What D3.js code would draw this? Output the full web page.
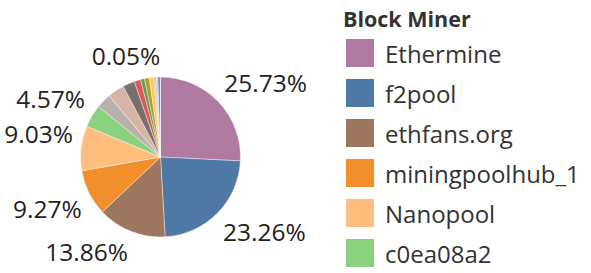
<!DOCTYPE html>
<html>
<head>
<meta charset="utf-8">
<script src="https://cdn.jsdelivr.net/npm/d3@7"></script>
<style>
  body { margin: 0; background: #fff; }
  text { font-family: "Open Sans", sans-serif; }
</style>
</head>
<body>
<div id="chart"></div>
<script>
// Block share by miner (percent), clockwise from 12 o'clock
var miners = ["Ethermine", "f2pool", "ethfans.org", "miningpoolhub_1", "Nanopool", "c0ea08a2",
  "DwarfPool1", "bw.com", "Coinotron", "sparkpool", "uupool", "zhizhu.top", "BitClubPool",
  "2miners", "hiveon", "Minerall", "pandapool", "Other"];
var shares = [25.73, 23.26, 13.86, 9.27, 9.03, 4.57,
  3.0, 3.4, 2.4, 1.30, 0.80, 0.95, 0.95, 0.20, 0.30, 0.30, 0.45, 0.05];
var colors = ["#b07aa1", "#4e79a7", "#9d7660", "#f28e2b", "#ffbe7d", "#8cd17d",
  "#bab0ac", "#d7b5a6", "#79706e", "#e15759", "#59a14f", "#b6992d", "#f1ce63",
  "#f28e2b", "#d4a6c8", "#a0cbe8", "#4e79a7", "#86bcb6"];

// Which slices get a percentage label, and how many rows the legend shows
var labelled = ["Ethermine", "f2pool", "ethfans.org", "miningpoolhub_1", "Nanopool", "c0ea08a2", "Other"];
var legendCount = 6;

var svgWidth = 591;
var svgHeight = 273;

var svg = d3.select("#chart")
  .append("svg")
  .attr("width", svgWidth)
  .attr("height", svgHeight);

var data = miners.map((m, i) => ({ name: m, value: shares[i] }));

var color = d3.scaleOrdinal()
  .domain(miners)
  .range(colors);

// Pie
var cx = 160.5, cy = 157, radius = 80;

var pie = d3.pie()
  .value(d => d.value)
  .sort(null);

var arc = d3.arc()
  .innerRadius(0)
  .outerRadius(radius);

var labelArc = d3.arc()
  .innerRadius(radius + 8)
  .outerRadius(radius + 8);

var pieGroup = svg.append("g")
  .attr("transform", `translate(${cx}, ${cy})`);

var arcs = pie(data);

pieGroup.selectAll("path")
  .data(arcs)
  .enter()
  .append("path")
  .attr("d", arc)
  .attr("fill", d => color(d.data.name))
  .attr("stroke", "#fff")
  .attr("stroke-width", 0.4);

// Labels outside the pie, anchored on the side they sit
pieGroup.selectAll(".pct")
  .data(arcs.filter(d => labelled.indexOf(d.data.name) >= 0))
  .enter()
  .append("text")
  .attr("class", "pct")
  .each(function(d) {
    var p = labelArc.centroid(d);
    var mid = (d.startAngle + d.endAngle) / 2;
    var right = Math.sin(mid) > 0.001;
    d3.select(this)
      .attr("x", p[0])
      .attr("y", p[1] < 0 ? p[1] - 4 : p[1] + 22)
      .attr("text-anchor", right ? "start" : "end");
  })
  .attr("font-size", "24.5px")
  .attr("fill", "#222")
  .text(d => d.data.value.toFixed(2) + "%");

// Legend
var legend = svg.append("g")
  .attr("transform", "translate(343, 0)");

legend.append("text")
  .attr("x", 0)
  .attr("y", 27)
  .attr("font-size", "21.5px")
  .attr("font-weight", "bold")
  .attr("fill", "#333")
  .text("Block Miner");

var rows = legend.selectAll(".row")
  .data(miners.slice(0, legendCount))
  .enter()
  .append("g")
  .attr("class", "row")
  .attr("transform", (d, i) => `translate(3, ${39 + i * 40})`);

rows.append("rect")
  .attr("width", 28)
  .attr("height", 28)
  .attr("fill", d => color(d));

rows.append("text")
  .attr("x", 39)
  .attr("y", 24)
  .attr("font-size", "24px")
  .attr("fill", "#333")
  .text(d => d);
</script>
</body>
</html>
